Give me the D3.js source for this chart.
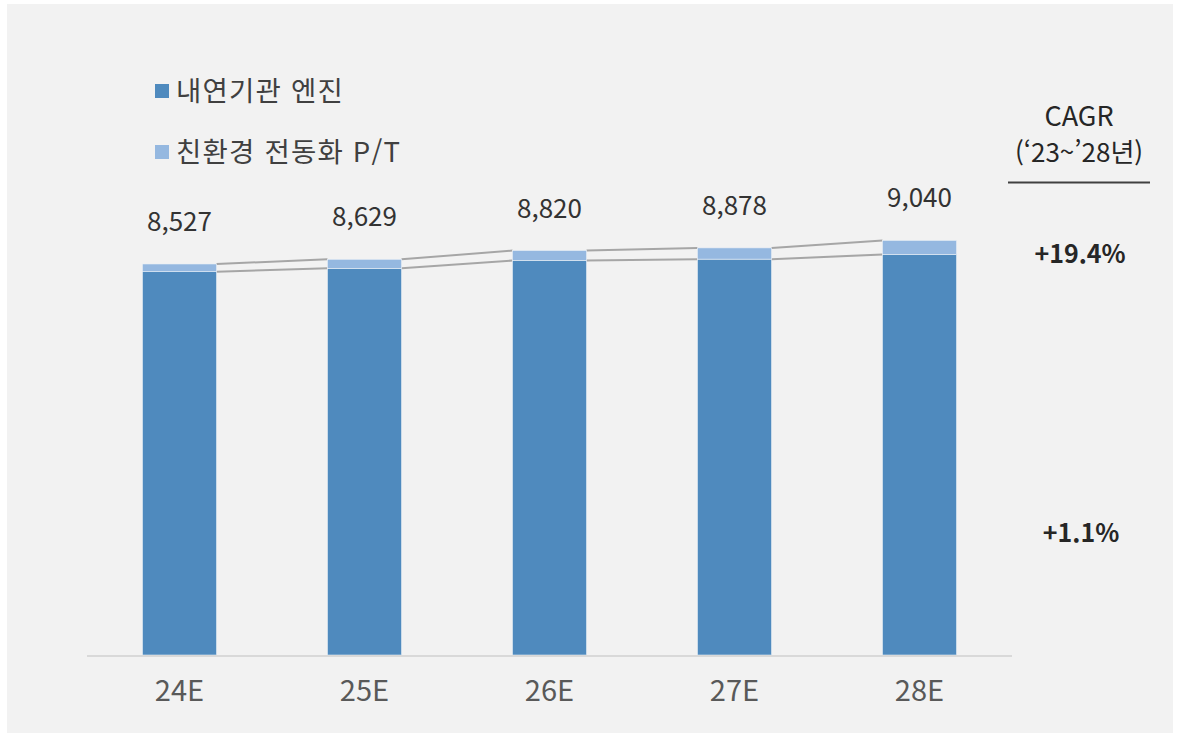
<!DOCTYPE html>
<html lang="ko">
<head>
<meta charset="utf-8">
<title>내연기관 엔진 / 친환경 전동화 P/T</title>
<script src="https://cdn.jsdelivr.net/npm/d3@7"></script>
<style>
  html, body { margin: 0; padding: 0; background: #fff; }
  svg text { font-family: "Noto Sans CJK KR", "Noto Sans", sans-serif; }
</style>
</head>
<body>
<svg id="chart" width="1180" height="737"></svg>
<script>
// data
var years = ['24E', '25E', '26E', '27E', '28E'];
var totals = [8527, 8629, 8820, 8878, 9040];
var ev = [168, 196, 218, 245, 305];          // 친환경 전동화 P/T
var engine = totals.map(function(t, i) { return t - ev[i]; });   // 내연기관 엔진
var seriesNames = ['내연기관 엔진', '친환경 전동화 P/T'];
var cagrLabels = ['+19.4%', '+1.1%'];

var colors = { engine: '#4f8abe', ev: '#95b8e0', link: '#a6a6a6' };

var svg = d3.select('#chart');

// panel background
svg.append('rect')
  .attr('x', 7).attr('y', 4)
  .attr('width', 1166).attr('height', 729)
  .attr('fill', '#f2f2f2');

var x = d3.scaleBand()
  .domain(years)
  .range([87, 1012])
  .paddingInner(0.6)
  .paddingOuter(0.3);

var baseY = 655;
var y = d3.scaleLinear()
  .domain([0, 8527])
  .range([baseY, 264]);

var bw = x.bandwidth();

// connector lines between bar tops (total and engine)
[totals, engine].forEach(function(vals) {
  var g = svg.append('g');
  for (var i = 0; i < years.length - 1; i++) {
    g.append('line')
      .attr('x1', x(years[i]) + bw)
      .attr('y1', y(vals[i]))
      .attr('x2', x(years[i + 1]))
      .attr('y2', y(vals[i + 1]))
      .attr('stroke', colors.link)
      .attr('stroke-width', 2);
  }
});

// stacked bars
var bars = svg.append('g');
bars.selectAll('rect.engine')
  .data(years)
  .enter().append('rect')
  .attr('class', 'engine')
  .attr('x', function(d) { return x(d); })
  .attr('y', function(d, i) { return y(engine[i]); })
  .attr('width', bw)
  .attr('height', function(d, i) { return baseY - y(engine[i]); })
  .attr('fill', colors.engine)
  .attr('stroke', '#e8eef6').attr('stroke-width', 0.6);

bars.selectAll('rect.ev')
  .data(years)
  .enter().append('rect')
  .attr('class', 'ev')
  .attr('x', function(d) { return x(d); })
  .attr('y', function(d, i) { return y(totals[i]); })
  .attr('width', bw)
  .attr('height', function(d, i) { return y(engine[i]) - y(totals[i]); })
  .attr('fill', colors.ev)
  .attr('stroke', '#e8eef6').attr('stroke-width', 0.6);

// baseline
svg.append('line')
  .attr('x1', 87).attr('x2', 1012)
  .attr('y1', baseY + 1).attr('y2', baseY + 1)
  .attr('stroke', '#d9d9d9').attr('stroke-width', 2);

// x axis labels
svg.selectAll('text.cat')
  .data(years)
  .enter().append('text')
  .attr('class', 'cat')
  .attr('x', function(d) { return x(d) + bw / 2; })
  .attr('y', 701)
  .attr('text-anchor', 'middle')
  .attr('font-size', 29)
  .attr('fill', '#595959')
  .text(function(d) { return d; });

// total labels
svg.selectAll('text.total')
  .data(years)
  .enter().append('text')
  .attr('class', 'total')
  .attr('x', function(d) { return x(d) + bw / 2; })
  .attr('y', function(d, i) { return y(totals[i]) - 33; })
  .attr('text-anchor', 'middle')
  .attr('font-size', 26)
  .attr('fill', '#333')
  .text(function(d, i) { return d3.format(',')(totals[i]); });

// legend
var legend = svg.append('g');
[colors.engine, colors.ev].forEach(function(c, i) {
  var cy = 91 + i * 61;
  legend.append('rect')
    .attr('x', 155).attr('y', cy - 7)
    .attr('width', 14).attr('height', 14)
    .attr('fill', c);
  legend.append('text')
    .attr('x', 176).attr('y', cy)
    .attr('dy', '0.36em')
    .attr('font-size', 27.5)
    .attr('letter-spacing', 1.2)
    .attr('fill', '#404040')
    .text(seriesNames[i]);
});

// CAGR box
var cx = 1079;
svg.append('text')
  .attr('x', cx).attr('y', 126)
  .attr('text-anchor', 'middle')
  .attr('font-size', 27)
  .attr('fill', '#262626')
  .text('CAGR');
svg.append('text')
  .attr('x', cx).attr('y', 162)
  .attr('text-anchor', 'middle')
  .attr('font-size', 26)
  .attr('fill', '#262626')
  .text('(\u201823~\u201928년)');
svg.append('line')
  .attr('x1', 1008).attr('x2', 1150)
  .attr('y1', 182.5).attr('y2', 182.5)
  .attr('stroke', '#404040').attr('stroke-width', 2);

svg.append('text')
  .attr('x', 1080).attr('y', 263)
  .attr('text-anchor', 'middle')
  .attr('font-size', 25)
  .attr('font-weight', 'bold')
  .attr('fill', '#262626')
  .text(cagrLabels[0]);
svg.append('text')
  .attr('x', 1081).attr('y', 542)
  .attr('text-anchor', 'middle')
  .attr('font-size', 25)
  .attr('font-weight', 'bold')
  .attr('fill', '#262626')
  .text(cagrLabels[1]);
</script>
</body>
</html>
